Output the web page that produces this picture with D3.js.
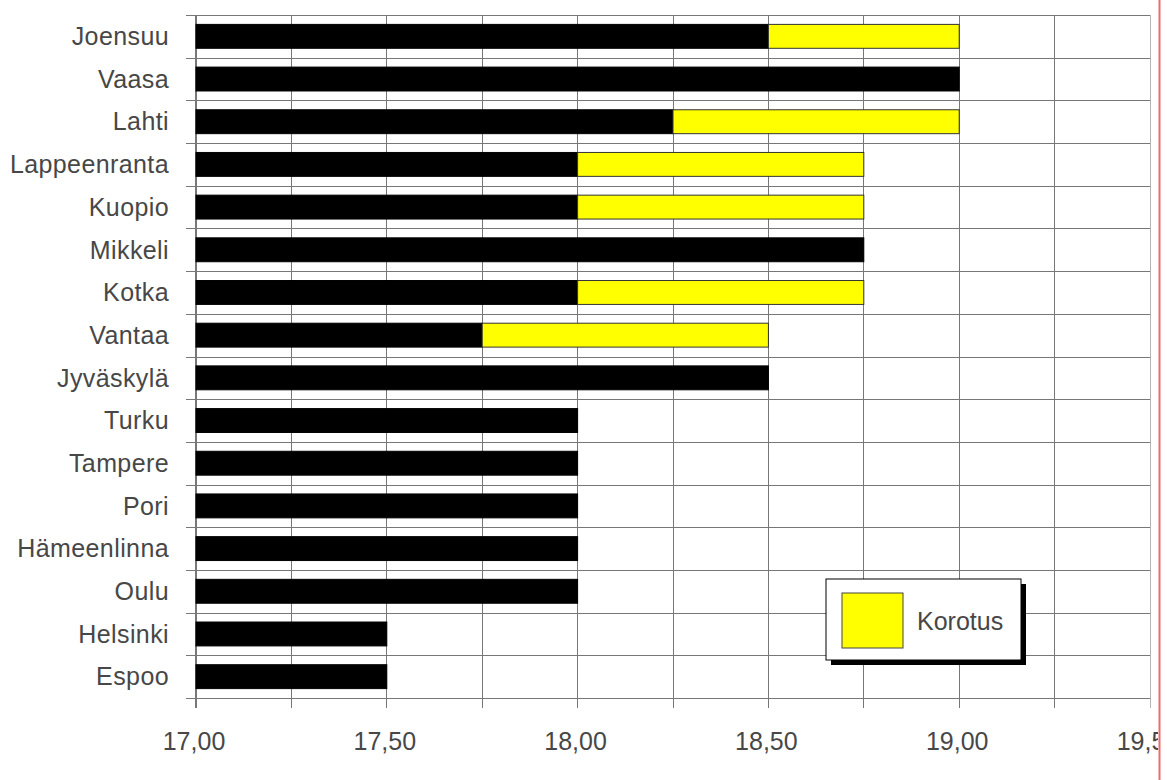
<!DOCTYPE html>
<html>
<head>
<meta charset="utf-8">
<script src="https://cdn.jsdelivr.net/npm/d3@7"></script>
<style>
  body { margin: 0; background: #fff; }
  svg { display: block; font-family: "Liberation Sans", Arial, sans-serif; }
</style>
</head>
<body>
<svg id="chart"></svg>
<script>
// data
const cities = ['Joensuu', 'Vaasa', 'Lahti', 'Lappeenranta', 'Kuopio', 'Mikkeli', 'Kotka', 'Vantaa',
  'Jyväskylä', 'Turku', 'Tampere', 'Pori', 'Hämeenlinna', 'Oulu', 'Helsinki', 'Espoo'];
const base = [18.50, 19.00, 18.25, 18.00, 18.00, 18.75, 18.00, 17.75,
  18.50, 18.00, 18.00, 18.00, 18.00, 18.00, 17.50, 17.50];
const korotus = [0.50, 0, 0.75, 0.75, 0.75, 0, 0.75, 0.75,
  0, 0, 0, 0, 0, 0, 0, 0];
const xTicks = [17.00, 17.50, 18.00, 18.50, 19.00, 19.50];
const legendLabel = 'Korotus';

const W = 1167, H = 780;
const margin = { top: 15, right: 17, bottom: 82, left: 196 };
const gridColor = '#777';
const textColor = '#474747';

const svg = d3.select('#chart').attr('width', W).attr('height', H);

const x = d3.scaleLinear().domain([17, 19.5]).range([margin.left, W - margin.right]);
const y = d3.scaleBand().domain(cities).range([margin.top, H - margin.bottom])
  .paddingInner(0.44).paddingOuter(0.22);
const step = y.step();
const bottom = H - margin.bottom;

// the right edge of the picture is cut off at the red line
svg.append('defs').append('clipPath').attr('id', 'clip')
  .append('rect').attr('x', 0).attr('y', 0).attr('width', 1158).attr('height', H);

const g = svg.append('g').attr('clip-path', 'url(#clip)');

// vertical gridlines and bottom ticks every 0.25
const minor = d3.range(17, 19.5001, 0.25);
g.selectAll('.vgrid')
  .data(minor)
  .enter()
  .append('line')
  .attr('class', 'vgrid')
  .attr('x1', d => x(d)).attr('x2', d => x(d))
  .attr('y1', margin.top).attr('y2', bottom + 10)
  .attr('stroke', d => d === 19.5 ? '#b5b5b5' : gridColor)
  .attr('stroke-width', d => d === 17 ? 1.4 : 1)
  .attr('shape-rendering', 'crispEdges');

// horizontal gridlines at category boundaries, with left ticks
const bounds = d3.range(cities.length + 1).map(i => y.range()[0] + i * step);
g.selectAll('.hgrid')
  .data(bounds)
  .enter()
  .append('line')
  .attr('class', 'hgrid')
  .attr('x1', margin.left - 10).attr('x2', x(19.5))
  .attr('y1', d => Math.round(d)).attr('y2', d => Math.round(d))
  .attr('stroke', gridColor)
  .attr('stroke-width', 1)
  .attr('shape-rendering', 'crispEdges');

// black base bars
g.selectAll('.base')
  .data(cities)
  .enter()
  .append('rect')
  .attr('class', 'base')
  .attr('x', x(17))
  .attr('y', d => y(d))
  .attr('width', (d, i) => x(base[i]) - x(17))
  .attr('height', y.bandwidth())
  .attr('fill', '#000')
  .attr('stroke', '#000');

// yellow increase bars
g.selectAll('.korotus')
  .data(cities.filter((d, i) => korotus[i] > 0))
  .enter()
  .append('rect')
  .attr('class', 'korotus')
  .attr('x', d => x(base[cities.indexOf(d)]))
  .attr('y', d => y(d))
  .attr('width', d => x(base[cities.indexOf(d)] + korotus[cities.indexOf(d)]) - x(base[cities.indexOf(d)]))
  .attr('height', y.bandwidth())
  .attr('fill', '#ffff00')
  .attr('stroke', '#333');

// category labels
g.selectAll('.cat')
  .data(cities)
  .enter()
  .append('text')
  .attr('class', 'cat')
  .attr('x', margin.left - 27)
  .attr('y', d => y(d) + y.bandwidth() / 2)
  .attr('dy', '0.35em')
  .attr('text-anchor', 'end')
  .attr('fill', textColor)
  .style('font-size', '25px')
  .style('letter-spacing', '0.4px')
  .text(d => d);

// x tick labels
const fmt = d => d.toFixed(2).replace('.', ',');
g.selectAll('.xlab')
  .data(xTicks)
  .enter()
  .append('text')
  .attr('class', 'xlab')
  .attr('x', d => x(d) - 2)
  .attr('y', bottom + 52)
  .attr('text-anchor', 'middle')
  .attr('fill', textColor)
  .style('font-size', '25px')
  .text(fmt);

// legend
const leg = g.append('g').attr('transform', 'translate(826,579)');
leg.append('rect').attr('x', 5).attr('y', 5).attr('width', 195).attr('height', 81).attr('fill', '#000');
leg.append('rect').attr('width', 195).attr('height', 81).attr('fill', '#fff').attr('stroke', '#000');
leg.append('rect').attr('x', 16).attr('y', 14).attr('width', 61).attr('height', 55)
  .attr('fill', '#ffff00').attr('stroke', '#444');
leg.append('text').attr('x', 91).attr('y', 42).attr('dy', '0.35em')
  .attr('fill', textColor).style('font-size', '25px').text(legendLabel);

// red edge line
svg.append('line')
  .attr('x1', 1159.5).attr('x2', 1159.5).attr('y1', 0).attr('y2', H)
  .attr('stroke', '#f06a6a').attr('stroke-width', 2);
</script>
</body>
</html>
